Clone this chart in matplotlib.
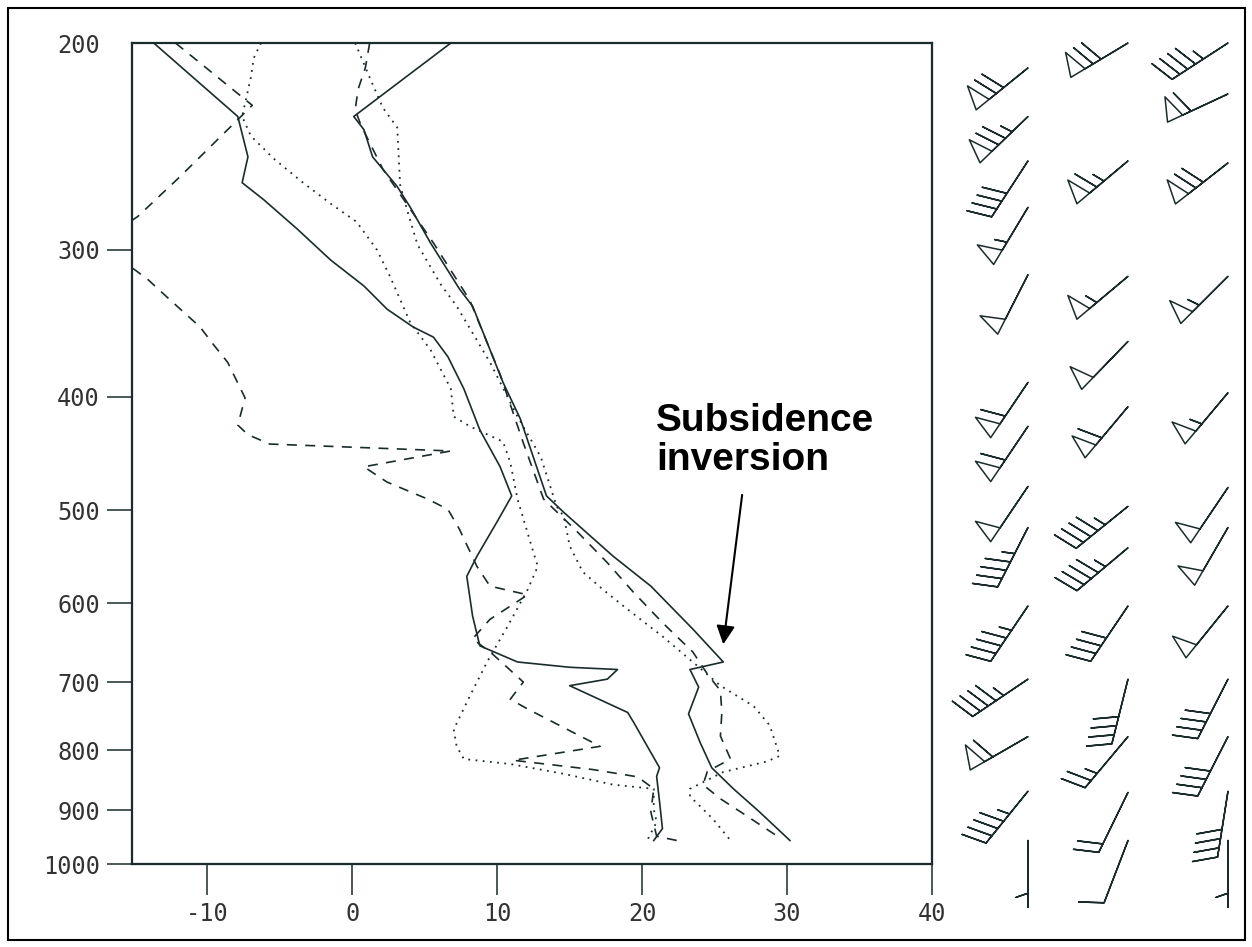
import numpy as np
import matplotlib
matplotlib.use('Agg')
import matplotlib.pyplot as plt
from matplotlib.patches import Rectangle
from matplotlib.ticker import FixedLocator, NullLocator

plt.rcParams['axes.unicode_minus'] = False

# sounding 1 (solid)
p_t1 = [200, 231, 237, 250, 265, 276, 296, 324, 335, 389, 418, 486, 502, 547, 580,
        631, 673, 683, 707, 745, 788, 828, 863, 903, 955]
t_t1 = [6.8, 0.1, 0.8, 1.4, 3.1, 4.0, 5.4, 7.4, 8.3, 10.4, 11.6, 13.4, 14.6, 18.0, 20.6,
        23.5, 25.6, 23.3, 23.9, 23.2, 24.0, 24.8, 26.3, 28.1, 30.2]
p_d1 = [200, 231, 250, 263, 272, 288, 306, 322, 337, 349, 356, 370, 394, 427, 459, 486,
        511, 547, 569, 615, 652, 673, 680, 683, 696, 705, 743, 757, 828, 842, 885, 933, 955]
t_d1 = [-13.7, -7.9, -7.2, -7.6, -6.1, -3.8, -1.5, 0.8, 2.4, 4.2, 5.6, 6.6, 7.7, 8.8, 10.2, 11.0,
        10.0, 8.6, 7.9, 8.3, 8.8, 11.4, 15.0, 18.3, 17.6, 15.0, 19.0, 19.4, 21.2, 21.0, 21.2, 21.4, 20.8]

# sounding 2 (dashed)
p_t2 = [200, 210, 219, 228, 235, 256, 296, 331, 383, 438, 489, 521, 554, 587, 623,
        660, 689, 712, 743, 778, 814, 834, 856, 880, 903, 950]
t_t2 = [1.2, 0.9, 0.4, 0.2, 0.6, 2.1, 5.6, 8.1, 10.2, 11.8, 13.2, 15.5, 17.6, 19.4, 21.4,
        23.5, 24.5, 25.4, 25.5, 25.4, 26.1, 24.5, 24.2, 25.4, 26.8, 29.5]
p_d2 = [200, 226, 260, 281, 296, 318, 329, 349, 361, 374, 401, 423, 431, 439, 441, 445,
        459, 473, 489, 499, 519, 558, 580, 590, 619, 643, 663, 700, 724, 738, 794, 816,
        831, 843, 863, 903, 947, 955]
t_d2 = [-12.2, -6.9, -11.9, -14.8, -17.5, -14.1, -12.8, -10.5, -9.6, -8.6, -7.4, -7.9, -7.2, -5.7, -1.5, 6.8,
        0.8, 2.4, 5.2, 6.6, 7.4, 8.6, 9.5, 12.1, 9.5, 8.3, 9.7, 11.8, 10.9, 12.1, 17.1, 11.1,
        16.6, 19.7, 20.8, 20.6, 21.0, 22.4]

# sounding 3 (dotted)
p_t3 = [200, 214, 227, 236, 264, 278, 297, 321, 335, 374, 416, 450, 496, 506, 536, 564,
        584, 603, 640, 678, 705, 734, 762, 809, 818, 835, 863, 876, 893, 916, 955]
t_t3 = [0.2, 1.2, 2.1, 3.1, 3.3, 3.8, 4.5, 6.1, 7.2, 9.5, 11.4, 13.0, 14.1, 14.6, 15.0, 15.9,
        17.3, 18.7, 21.4, 23.8, 25.4, 27.7, 28.8, 29.5, 28.6, 25.6, 23.3, 23.3, 24.0, 24.9, 26.1]
p_d3 = [200, 206, 214, 231, 240, 251, 263, 274, 284, 300, 316, 346, 365, 394, 416, 424,
        437, 455, 489, 543, 558, 584, 628, 673, 720, 768, 794, 814, 822, 838, 856, 863,
        898, 921, 952]
t_d3 = [-6.3, -6.8, -7.0, -7.6, -7.0, -5.4, -3.4, -1.5, 0.3, 1.7, 2.6, 4.0, 5.4, 6.8, 7.0, 8.1,
        10.4, 10.9, 11.4, 12.5, 12.8, 12.1, 10.7, 9.3, 8.1, 7.0, 7.2, 7.7, 10.9, 14.6, 18.0, 20.8,
        20.8, 21.0, 20.4]

# winds: pressure (hPa), direction (deg), speed (kt) for each column
p_w1 = [210, 231, 252, 276, 315, 389, 424, 477, 517, 603, 696, 779, 867, 955]
d_w1 = [231, 226, 213, 211, 207, 214, 214, 214, 207, 214, 236, 240, 219, 180]
s_w1 = [70, 75, 40, 55, 50, 60, 60, 50, 45, 45, 45, 60, 45, 5]
p_w2 = [200, 252, 316, 359, 408, 496, 538, 603, 696, 779, 869, 955]
d_w2 = [239, 230, 230, 224, 220, 231, 230, 214, 194, 220, 206, 201]
s_w2 = [70, 65, 55, 50, 60, 45, 45, 40, 40, 25, 20, 10]
p_w3 = [200, 221, 253, 316, 397, 478, 517, 603, 696, 779, 867, 955]
d_w3 = [237, 245, 232, 225, 220, 214, 210, 219, 207, 207, 189, 180]
s_w3 = [45, 60, 70, 55, 55, 50, 50, 50, 40, 40, 40, 5]

p_ticks = [200, 300, 400, 500, 600, 700, 800, 900, 1000]
t_ticks = [-10, 0, 10, 20, 30, 40]

ink = '#1b2b2b'
W, H = 1252, 947
fig = plt.figure(figsize=(W / 100, H / 100), dpi=100)

ax = fig.add_axes([132 / W, 1 - 864 / H, 800 / W, 821 / H])
ax.set_yscale('log')
ax.set_ylim(1000, 200)
ax.set_xlim(-15.2, 40)

lw = 1.2
ax.plot(t_t1, p_t1, color=ink, lw=lw, ls='-')
ax.plot(t_d1, p_d1, color=ink, lw=lw, ls='-')
ax.plot(t_t2, p_t2, color=ink, lw=lw, ls=(0, (6, 5)))
ax.plot(t_d2, p_d2, color=ink, lw=lw, ls=(0, (6, 5)))
ax.plot(t_t3, p_t3, color=ink, lw=1.3, ls=(0, (1, 3)))
ax.plot(t_d3, p_d3, color=ink, lw=1.3, ls=(0, (1, 3)))

ax.yaxis.set_major_locator(FixedLocator(p_ticks))
ax.yaxis.set_minor_locator(NullLocator())
ax.set_yticklabels([str(p) for p in p_ticks])
ax.set_xticks(t_ticks)
ax.set_xticklabels([str(t) for t in t_ticks])
ax.yaxis.get_major_ticks()[0].tick1line.set_visible(False)

for s in ax.spines.values():
    s.set_linewidth(1.6)
    s.set_color(ink)
ax.tick_params(axis='y', direction='out', length=18, width=1.1, pad=5, colors=ink,
               labelsize=17, labelcolor='#333333')
ax.tick_params(axis='x', direction='out', length=22, width=1.1, pad=5, colors=ink,
               labelsize=17, labelcolor='#333333')
for lab in ax.get_xticklabels() + ax.get_yticklabels():
    lab.set_family('DejaVu Sans Mono')

ax.text(0.655, 0.561, 'Subsidence\ninversion', transform=ax.transAxes, ha='left', va='top',
        fontsize=28, fontweight='bold', family='Liberation Sans', linespacing=1.08, color='black')
ax.annotate('', xy=(25.6, 650), xytext=(26.9, 485),
            arrowprops=dict(arrowstyle='-|>', color='black', lw=1.5, mutation_scale=28,
                            shrinkA=0, shrinkB=0))

# wind barbs
bx = fig.add_axes([940 / W, 1 - 864 / H, 312 / W, 821 / H])
bx.set_yscale('log')
bx.set_ylim(1000, 200)
bx.set_xlim(-0.88, 2.24)
bx.axis('off')
for col, (pw, dw, sw) in enumerate([(p_w1, d_w1, s_w1), (p_w2, d_w2, s_w2), (p_w3, d_w3, s_w3)]):
    rad = np.deg2rad(dw)
    u = -np.array(sw) * np.sin(rad)
    v = -np.array(sw) * np.cos(rad)
    bx.barbs(np.full(len(pw), col), pw, u, v, length=9.8, barbcolor=ink, flagcolor='white',
             linewidth=1.1, sizes=dict(spacing=0.14, height=0.36, width=0.25), clip_on=False)

fig.add_artist(Rectangle((8 / W, 1 - 940 / H), 1237 / W, 932 / H, transform=fig.transFigure,
                         fill=False, edgecolor='black', linewidth=1.5))

fig.savefig('out.png', dpi=100, facecolor='white')
